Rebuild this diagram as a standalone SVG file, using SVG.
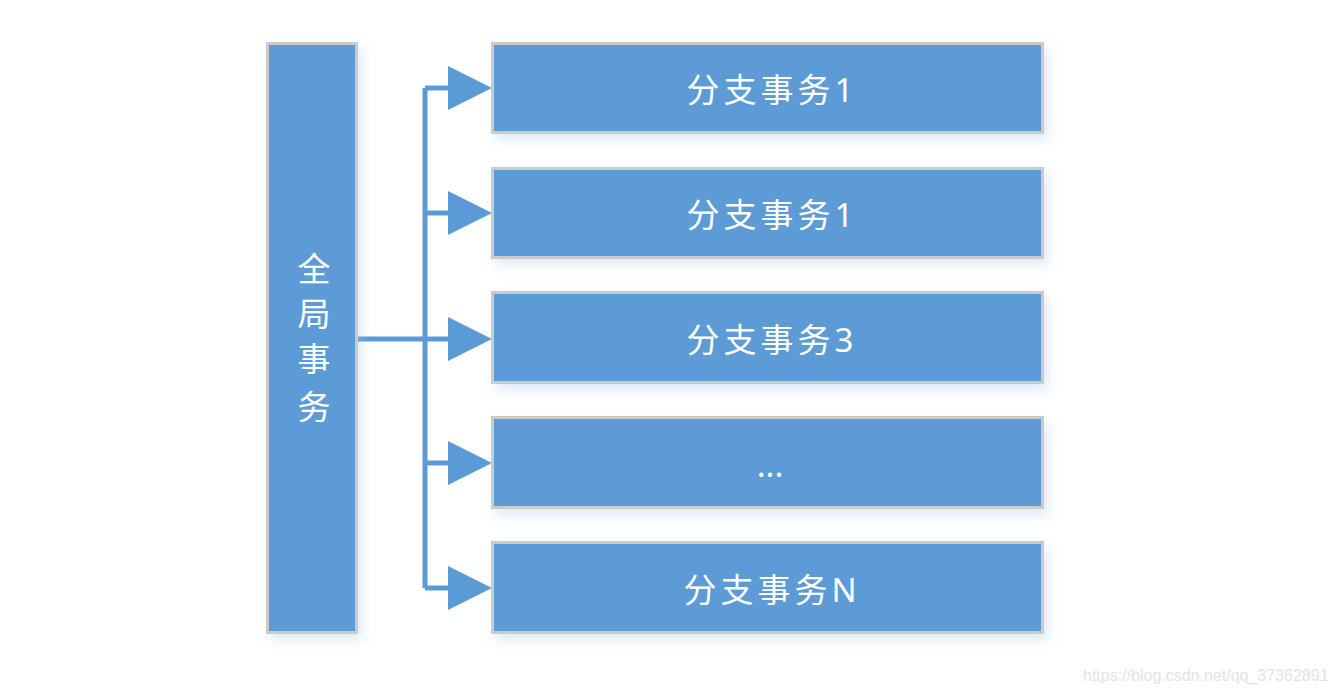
<svg xmlns="http://www.w3.org/2000/svg" width="1333" height="693" viewBox="0 0 1333 693">
<defs>
<style>
.box{fill:#5b9bd5;stroke:#cbcbcb;stroke-width:3}
.lbl{font-family:"Noto Sans","Noto Sans CJK SC",sans-serif;font-size:33px;fill:#ffffff;text-anchor:middle}
.wide{letter-spacing:4px}
.conn{fill:none;stroke:#5b9bd5;stroke-width:5;stroke-linejoin:round}
.wm{font-family:"Liberation Sans",Arial,sans-serif;font-size:16px;fill:#e3e3e3}
</style>
<filter id="sh" x="-20%" y="-20%" width="140%" height="140%">
<feGaussianBlur in="SourceAlpha" stdDeviation="6"/>
<feOffset dx="4" dy="6" result="b"/>
<feFlood flood-color="#9fc3e6" flood-opacity="0.35"/>
<feComposite in2="b" operator="in"/>
<feMerge><feMergeNode/><feMergeNode in="SourceGraphic"/></feMerge>
</filter>
<marker id="arr" viewBox="0 0 44 44" refX="0" refY="22" markerWidth="44" markerHeight="44" markerUnits="userSpaceOnUse" orient="auto">
<path d="M0,0 L44,22 L0,44 Z" fill="#5b9bd5"/>
</marker>
</defs>
<rect width="1333" height="693" fill="#ffffff"/>
<g id="connectors">
<path class="conn" d="M358,339 H425"/>
<path class="conn" d="M425,88 V588"/>
<path class="conn" d="M425,88 H448" marker-end="url(#arr)"/>
<path class="conn" d="M425,213 H448" marker-end="url(#arr)"/>
<path class="conn" d="M425,339 H448" marker-end="url(#arr)"/>
<path class="conn" d="M425,463 H448" marker-end="url(#arr)"/>
<path class="conn" d="M425,588 H448" marker-end="url(#arr)"/>
</g>
<g id="global">
<rect class="box" x="267.5" y="43.5" width="89" height="589" filter="url(#sh)"/>
<text class="lbl" x="314" y="281">全</text>
<text class="lbl" x="314" y="326">局</text>
<text class="lbl" x="314" y="371">事</text>
<text class="lbl" x="314" y="419">务</text>
</g>
<g id="branch1">
<rect class="box" x="492.5" y="43.5" width="550" height="89" filter="url(#sh)"/>
<text class="lbl wide" x="772" y="102">分支事务1</text>
</g>
<g id="branch2">
<rect class="box" x="492.5" y="168.5" width="550" height="89" filter="url(#sh)"/>
<text class="lbl wide" x="772" y="227">分支事务1</text>
</g>
<g id="branch3">
<rect class="box" x="492.5" y="292.5" width="550" height="90" filter="url(#sh)"/>
<text class="lbl wide" x="772" y="352">分支事务3</text>
</g>
<g id="branch4">
<rect class="box" x="492.5" y="417.5" width="550" height="90" filter="url(#sh)"/>
<text class="lbl" x="770" y="477">...</text>
</g>
<g id="branchN">
<rect class="box" x="492.5" y="542.5" width="550" height="90" filter="url(#sh)"/>
<text class="lbl wide" x="772" y="602">分支事务N</text>
</g>
<text class="wm" x="1083" y="681">https://blog.csdn.net/qq_37362891</text>
</svg>
